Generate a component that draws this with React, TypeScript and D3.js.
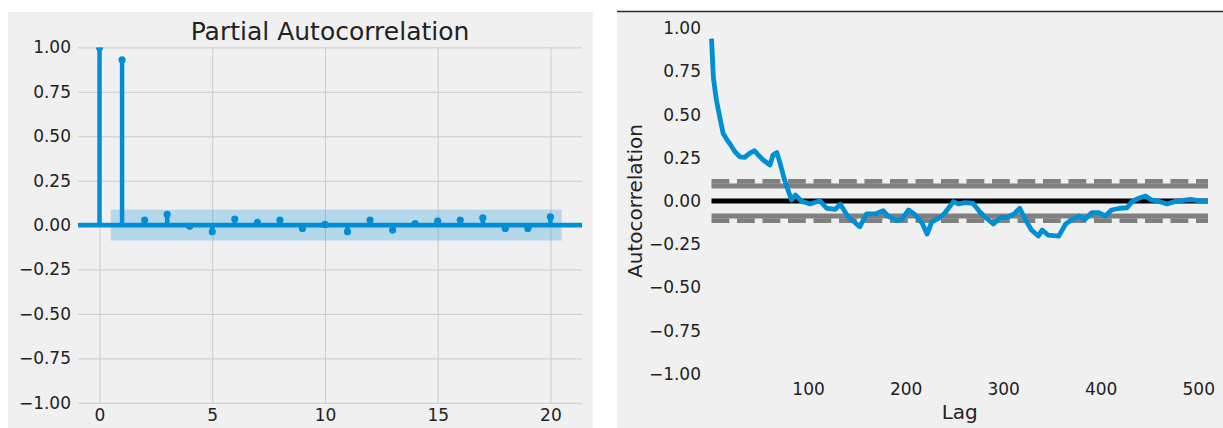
import React, { useEffect, useRef } from 'react'
import * as d3 from 'd3'

// left panel: partial autocorrelation (stems)
const pacfLags = [0, 1, 2, 3, 4, 5, 6, 7, 8, 9, 10, 11, 12, 13, 14, 15, 16, 17, 18, 19, 20]
const pacfValues = [1.0, 0.93, 0.028, 0.06, -0.007, -0.037, 0.034, 0.015, 0.028, -0.019, 0.004,
  -0.037, 0.028, -0.028, 0.009, 0.022, 0.028, 0.041, -0.019, -0.019, 0.047]
const pacfConf = 0.087
const pacfXTicks = [0, 5, 10, 15, 20]
const yTicks = [1, 0.75, 0.5, 0.25, 0, -0.25, -0.5, -0.75, -1]

// right panel: pandas autocorrelation_plot
const acLags = [1, 3, 6, 10, 13, 17, 20, 25, 30, 35, 40, 45, 49, 54, 61, 64, 68, 71, 76, 83, 87, 93,
  102, 112, 119, 128, 133, 141, 153, 160, 169, 177, 182, 191, 196, 203, 210, 217, 222, 227, 234, 240,
  249, 254, 261, 269, 276, 281, 290, 297, 304, 309, 312, 317, 322, 329, 336, 340, 346, 357, 364, 370,
  378, 384, 391, 398, 405, 411, 420, 427, 432, 439, 446, 452, 461, 468, 475, 483, 492, 500, 510]
const acValues = [0.94, 0.71, 0.585, 0.47, 0.39, 0.353, 0.33, 0.285, 0.256, 0.253, 0.276, 0.291, 0.266,
  0.237, 0.208, 0.266, 0.28, 0.225, 0.12, 0.006, 0.035, 0.0, -0.017, 0.002, -0.042, -0.048, -0.019,
  -0.091, -0.149, -0.075, -0.075, -0.056, -0.087, -0.114, -0.106, -0.052, -0.081, -0.129, -0.191,
  -0.12, -0.1, -0.071, -0.004, -0.017, -0.01, -0.013, -0.062, -0.091, -0.133, -0.097, -0.094, -0.081,
  -0.071, -0.042, -0.1, -0.168, -0.203, -0.168, -0.197, -0.203, -0.133, -0.11, -0.087, -0.106, -0.067,
  -0.067, -0.087, -0.052, -0.042, -0.039, -0.004, 0.016, 0.029, 0.006, -0.004, -0.017, -0.004, 0.002,
  0.01, 0.002, -0.002]
const acN = 510
const acXTicks = [100, 200, 300, 400, 500]

const BLUE = '#008fd5'
const BG = '#f0f0f0'
const GRID = '#cbcbcb'
const TXT = '#222'
const FONT = 'DejaVu Sans, sans-serif'

export default function App() {
  const svgRef = useRef<SVGSVGElement>(null)

  useEffect(() => {
    const svg = d3.select(svgRef.current)
    svg.selectAll('*').remove()

    // ---------- left ----------
    const L = { left: 78, right: 582, top: 47.4, bottom: 402.8 }
    svg.append('rect').attr('x', 8).attr('y', 12).attr('width', 585).attr('height', 416).attr('fill', BG)

    const x1 = d3.scaleLinear().domain([-0.955, 21.4]).range([L.left, L.right])
    const y1 = d3.scaleLinear().domain([-1, 1]).range([L.bottom, L.top])

    const yAxis1 = svg.append('g')
      .attr('transform', `translate(${L.left},0)`)
      .call(d3.axisLeft(y1).tickValues(yTicks).tickSize(-(L.right - L.left)).tickPadding(7).tickFormat(d3.format('.2f')))
    const xAxis1 = svg.append('g')
      .attr('transform', `translate(0,${L.bottom})`)
      .call(d3.axisBottom(x1).tickValues(pacfXTicks).tickSize(-(L.bottom - L.top)).tickPadding(6.5))

    ;[yAxis1, xAxis1].forEach(g => {
      g.select('.domain').remove()
      g.selectAll('line').attr('stroke', GRID).attr('stroke-width', 1)
      g.selectAll('text').attr('fill', TXT).style('font-size', '17px').style('font-family', FONT)
    })

    svg.append('text')
      .attr('x', (L.left + L.right) / 2).attr('y', 40)
      .attr('text-anchor', 'middle')
      .style('font-family', FONT).style('font-size', '25px').attr('fill', TXT)
      .text('Partial Autocorrelation')

    svg.append('clipPath').attr('id', 'clipL')
      .append('rect').attr('x', L.left).attr('y', L.top).attr('width', L.right - L.left).attr('height', L.bottom - L.top)
    const p1 = svg.append('g').attr('clip-path', 'url(#clipL)')

    p1.append('line')
      .attr('x1', L.left).attr('x2', L.right).attr('y1', y1(0)).attr('y2', y1(0))
      .attr('stroke', BLUE).attr('stroke-width', 4.8)

    p1.selectAll('.stem').data(pacfLags).join('line')
      .attr('x1', d => x1(d)).attr('x2', d => x1(d))
      .attr('y1', y1(0)).attr('y2', (d, i) => y1(pacfValues[i]))
      .attr('stroke', BLUE).attr('stroke-width', 4.5)

    p1.selectAll('.dot').data(pacfLags).join('circle')
      .attr('cx', d => x1(d)).attr('cy', (d, i) => y1(pacfValues[i]))
      .attr('r', 3.6).attr('fill', BLUE)

    p1.append('rect')
      .attr('x', x1(0.5)).attr('width', x1(20.5) - x1(0.5))
      .attr('y', y1(pacfConf)).attr('height', y1(-pacfConf) - y1(pacfConf))
      .attr('fill', BLUE).attr('fill-opacity', 0.25)

    // ---------- right ----------
    const R = { left: 711.5, right: 1208, top: 28.2, bottom: 373.8 }
    svg.append('rect').attr('x', 617).attr('y', 11).attr('width', 606).attr('height', 417).attr('fill', BG)
    svg.append('line').attr('x1', 617).attr('x2', 1223).attr('y1', 11.5).attr('y2', 11.5)
      .attr('stroke', '#2a2a2a').attr('stroke-width', 1.5)

    const x2 = d3.scaleLinear().domain([1, acN]).range([R.left, R.right])
    const y2 = d3.scaleLinear().domain([-1, 1]).range([R.bottom, R.top])

    const yAxis2 = svg.append('g')
      .attr('transform', `translate(${R.left},0)`)
      .call(d3.axisLeft(y2).tickValues(yTicks).tickSize(0).tickPadding(10.5).tickFormat(d3.format('.2f')))
    const xAxis2 = svg.append('g')
      .attr('transform', `translate(0,${R.bottom})`)
      .call(d3.axisBottom(x2).tickValues(acXTicks).tickSize(0).tickPadding(9.6).tickFormat(d3.format('d')))
    ;[yAxis2, xAxis2].forEach(g => {
      g.select('.domain').remove()
      g.selectAll('text').attr('fill', TXT).style('font-size', '17px').style('font-family', FONT)
    })

    const z95 = 1.959963984540054
    const z99 = 2.5758293035489004
    const bands = [
      { v: z99 / Math.sqrt(acN), dash: '17.8,7.7', color: 'grey' },
      { v: z95 / Math.sqrt(acN), dash: null, color: 'grey' },
      { v: 0, dash: null, color: 'black' },
      { v: -z95 / Math.sqrt(acN), dash: null, color: 'grey' },
      { v: -z99 / Math.sqrt(acN), dash: '17.8,7.7', color: 'grey' },
    ]
    svg.selectAll('.band').data(bands).join('line')
      .attr('x1', R.left).attr('x2', R.right)
      .attr('y1', d => y2(d.v)).attr('y2', d => y2(d.v))
      .attr('stroke', d => d.color).attr('stroke-width', 4.8)
      .attr('stroke-dasharray', d => d.dash)

    const line = d3.line<number>()
      .x(d => x2(d))
      .y((d, i) => y2(acValues[i]))
    svg.append('path')
      .attr('d', line(acLags))
      .attr('fill', 'none').attr('stroke', BLUE).attr('stroke-width', 4.8)
      .attr('stroke-linejoin', 'round')

    svg.append('text')
      .attr('transform', `translate(641.5,${(R.top + R.bottom) / 2}) rotate(-90)`)
      .attr('text-anchor', 'middle')
      .style('font-family', FONT).style('font-size', '20px').attr('fill', TXT)
      .text('Autocorrelation')
    svg.append('text')
      .attr('x', (R.left + R.right) / 2).attr('y', 419)
      .attr('text-anchor', 'middle')
      .style('font-family', FONT).style('font-size', '20px').attr('fill', TXT)
      .text('Lag')
  }, [])

  return (
    <svg ref={svgRef} width={1223} height={428}
      style={{ position: 'absolute', left: 0, top: 0, background: 'white' }} />
  )
}
